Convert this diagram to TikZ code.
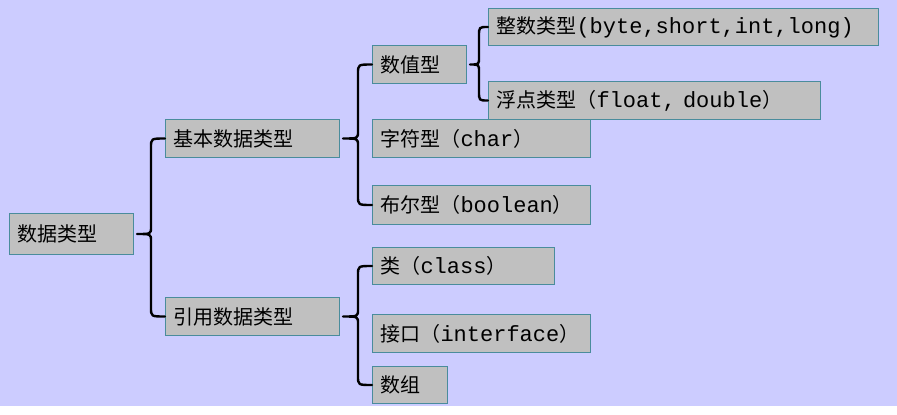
\documentclass[tikz,border=0pt]{standalone}
\usepackage{fontspec}
\setmainfont{Liberation Mono}
\newfontfamily\cjk{Noto Sans CJK SC}
\newcommand{\zh}[1]{{\fontsize{20}{24}\selectfont\cjk #1}}
\usetikzlibrary{calc}
\definecolor{bg}{HTML}{CCCCFF}
\definecolor{boxfill}{HTML}{C0C0C0}
\definecolor{boxline}{HTML}{4A8C9C}
\tikzset{
  box/.style={draw=boxline, line width=1pt, fill=boxfill, anchor=north west, inner xsep=8pt, inner ysep=0pt, align=left, font=\fontsize{22}{26}\selectfont},
  br/.style={line width=2.4pt, black, line cap=round, line join=round}
}
\newcommand{\bkt}[4]{% parent, top, bottom, offset of vertical
  \draw[br] let \p1=(#1.east), \p2=(#2.west), \p3=(#3.west) in
    (\x2,\y2) .. controls (\x1+#4,\y2) .. (\x1+#4,\y2-9pt) -- (\x1+#4,\y1+7pt)
    .. controls (\x1+#4,\y1) .. (\x1+3pt,\y1)
    .. controls (\x1+#4,\y1) .. (\x1+#4,\y1-7pt) -- (\x1+#4,\y3+9pt)
    .. controls (\x1+#4,\y3) .. (\x3,\y3);}
\begin{document}
\begin{tikzpicture}[x=1pt,y=-1pt]
\fill[white] (0,0) rectangle (897,415);
\fill[bg] (0,0) rectangle (897,406);
\useasboundingbox (0,0) rectangle (897,415);
\newcommand{\bx}[6]{\node[box, minimum width=#4pt, minimum height=#5pt, text width=#4pt-16pt] (#1) at (#2,#3) {#6};}
\bx{root}{9}{213}{124}{41}{\zh{数据类型}}
\bx{jb}{165}{119}{174}{38}{\zh{基本数据类型}}
\bx{yy}{165}{297}{174}{38}{\zh{引用数据类型}}
\bx{sz}{372}{45}{94}{38}{\zh{数值型}}
\bx{zs}{488}{8}{390}{37}{\zh{整数类型}(byte,short,int,long)}
\bx{fd}{488}{81}{332}{38}{\zh{浮点类型（}float, double\zh{）}}
\bx{zf}{372}{119}{218}{38}{\zh{字符型（}char\zh{）}}
\bx{be}{372}{185}{218}{39}{\zh{布尔型（}boolean\zh{）}}
\bx{lei}{372}{247}{182}{37}{\zh{类（}class\zh{）}}
\bx{jk}{372}{314}{218}{38}{\zh{接口（}interface\zh{）}}
\bx{shz}{372}{366}{75}{37}{\zh{数组}}
\bkt{root}{jb}{yy}{17pt}
\bkt{jb}{sz}{be}{18pt}
\bkt{sz}{zs}{fd}{12pt}
\bkt{yy}{lei}{shz}{18pt}
\end{tikzpicture}
\end{document}
